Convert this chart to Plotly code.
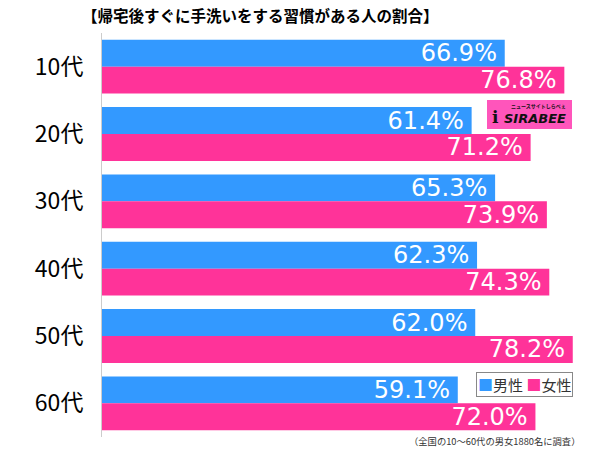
import plotly.graph_objects as go

categories = ["10代", "20代", "30代", "40代", "50代", "60代"]
male = [66.9, 61.4, 65.3, 62.3, 62.0, 59.1]
female = [76.8, 71.2, 73.9, 74.3, 78.2, 72.0]
series_names = ["男性", "女性"]
colors = ["#3399ff", "#ff3399"]
title = "【帰宅後すぐに手洗いをする習慣がある人の割合】"
note = "（全国の10～60代の男女1880名に調査）"

FONT = "Noto Sans CJK JP"
W, H = 600, 449
L, R, T, B = 102, 0, 33, 12
px_per_pct = 6.02
xmax = (W - L - R) / px_per_pct

fig = go.Figure()
for name, vals, c in zip(series_names, [male, female], colors):
    fig.add_trace(go.Bar(
        y=categories, x=vals, name=name, orientation="h",
        marker=dict(color=c, line=dict(width=0)),
        texttemplate="%{x:.1f}%\u2009", textposition="inside",
        insidetextanchor="end", constraintext="none",
        textfont=dict(color="white", size=24, family="DejaVu Sans"),
        hoverinfo="skip",
    ))

def px2x(px):
    return (px - L) / (W - L - R)

def py2y(py):
    return (H - B - py) / (H - T - B)

legend_text = "".join(
    f'<span style="color:{c}">■</span>{n}' + ("" if i == len(series_names) - 1 else " ")
    for i, (n, c) in enumerate(zip(series_names, colors))
)

fig.update_layout(
    width=W, height=H,
    margin=dict(l=L, r=R, t=T, b=B),
    barmode="group", bargap=0.2, bargroupgap=0,
    plot_bgcolor="white", paper_bgcolor="white",
    showlegend=False,
    font=dict(family=FONT, color="#000"),
    xaxis=dict(range=[0, xmax], visible=False, fixedrange=True),
    yaxis=dict(autorange="reversed", showline=True, linecolor="#cccccc", linewidth=1,
               ticks="", showgrid=False, tickfont=dict(size=23, color="#000", family=FONT),
               ticklabelstandoff=13),
    shapes=[
        dict(type="rect", xref="paper", yref="paper",
             x0=px2x(487), x1=px2x(572), y0=py2y(129), y1=py2y(100),
             fillcolor="#ff55bb", line=dict(width=0), layer="above"),
    ],
    annotations=[
        dict(text="<b>" + title + "</b>", xref="paper", yref="paper", x=px2x(260), y=py2y(15),
             xanchor="center", yanchor="middle", showarrow=False,
             font=dict(size=15.5, color="#000", family=FONT)),
        dict(text=legend_text, xref="paper", yref="paper", x=px2x(573), y=py2y(384),
             xanchor="right", yanchor="middle", showarrow=False,
             bordercolor="#888888", borderwidth=1, borderpad=1, bgcolor="white",
             font=dict(size=15, color="#333", family=FONT)),
        dict(text=note, xref="paper", yref="paper", x=px2x(582), y=py2y(441),
             xanchor="right", yanchor="middle", showarrow=False,
             font=dict(size=9.3, color="#333", family=FONT)),
        dict(text="<b><i>SIRABEE</i></b>", xref="paper", yref="paper", x=px2x(502), y=py2y(119),
             xanchor="left", yanchor="middle", showarrow=False,
             font=dict(size=13, color="#111", family="DejaVu Sans")),
        dict(text="<b>ニュースサイトしらべぇ</b>", xref="paper", yref="paper", x=px2x(568), y=py2y(106),
             xanchor="right", yanchor="middle", showarrow=False,
             font=dict(size=5, color="#111", family=FONT)),
        dict(text="<b>i</b>", xref="paper", yref="paper", x=px2x(495), y=py2y(117),
             xanchor="center", yanchor="middle", showarrow=False,
             font=dict(size=17, color="#111", family="DejaVu Serif")),
    ],
)

fig.write_html("out.html")
